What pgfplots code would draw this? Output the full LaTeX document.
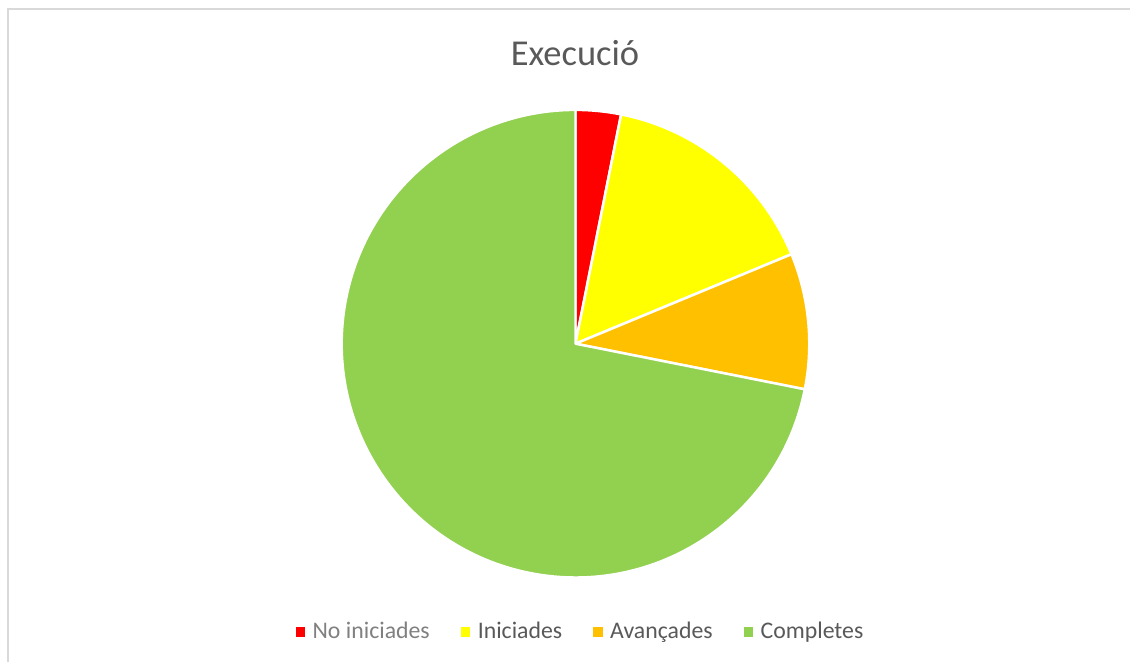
\documentclass[border=0pt]{standalone}
\usepackage{pgfplots}
\usepackage{pgfplotstable}
\pgfplotsset{compat=1.18}
\usepackage{fontspec}
\setmainfont{Carlito}
\definecolor{cRed}{HTML}{FF0000}
\definecolor{cYel}{HTML}{FFFF00}
\definecolor{cOra}{HTML}{FFC000}
\definecolor{cGre}{HTML}{92D050}
\definecolor{txt}{HTML}{595959}
\definecolor{txtl}{HTML}{808080}
\definecolor{framec}{HTML}{D9D9D9}

\pgfplotstableread{
label value color
NoIniciades 1 cRed
Iniciades 5 cYel
Avancades 3 cOra
Completes 23 cGre
}\piedata

\begin{document}
\begin{tikzpicture}
\begin{axis}[
  scale only axis, width=1131pt, height=663pt,
  xmin=0, xmax=1131, ymin=0, ymax=663,
  axis lines=none, xtick=\empty, ytick=\empty, clip=false,
  legend columns=4,
  legend style={at={(axis cs:581,31)}, anchor=center, draw=none, fill=none,
    font=\fontsize{23.8}{28}\selectfont, text=txt, inner sep=0pt,
    /tikz/every odd column/.append style={column sep=6pt},
    /tikz/every even column/.append style={column sep=29pt}},
]
\path (axis cs:0,0) rectangle (axis cs:1131,663);
\draw[framec, line width=2pt] (axis cs:8,0) -- (axis cs:8,654) -- (axis cs:1131,654);
\pgfplotstablegetrowsof{\piedata}
\pgfmathtruncatemacro\nrows{\pgfplotsretval-1}
\def\total{0}
\pgfplotsforeachungrouped \i in {0,...,\nrows}{%
  \pgfplotstablegetelem{\i}{value}\of{\piedata}%
  \pgfmathsetmacro\total{\total+\pgfplotsretval}%
}
\def\cum{0}
\pgfplotsforeachungrouped \i in {0,...,\nrows}{%
  \pgfplotstablegetelem{\i}{value}\of{\piedata}%
  \let\val\pgfplotsretval
  \pgfmathsetmacro\aA{90-360*\cum/\total}%
  \pgfmathsetmacro\cum{\cum+\val}%
  \pgfmathsetmacro\aB{90-360*\cum/\total}%
  \pgfplotstablegetelem{\i}{color}\of{\piedata}%
  \let\col\pgfplotsretval
  \edef\temp{\noexpand\fill[fill=\col, draw=white, line width=2.5pt, line join=round] (axis cs:576,319) -- ++(\aA:234pt) arc[start angle=\aA, end angle=\aB, radius=234pt] -- cycle;}%
  \temp
}
\node[anchor=base, font=\fontsize{36.5}{43}\selectfont, text=txt] at (axis cs:575.5,597) {Execució};
\addlegendimage{legend image code/.code={\fill[cRed] (0pt,-4.3pt) rectangle (8.6pt,4.3pt);}}
\addlegendentry{\textcolor{txtl}{No iniciades}}
\addlegendimage{legend image code/.code={\fill[cYel] (0pt,-4.3pt) rectangle (8.6pt,4.3pt);}}
\addlegendentry{Iniciades}
\addlegendimage{legend image code/.code={\fill[cOra] (0pt,-4.3pt) rectangle (8.6pt,4.3pt);}}
\addlegendentry{Avançades}
\addlegendimage{legend image code/.code={\fill[cGre] (0pt,-4.3pt) rectangle (8.6pt,4.3pt);}}
\addlegendentry{Completes}
\end{axis}
\end{tikzpicture}
\end{document}
